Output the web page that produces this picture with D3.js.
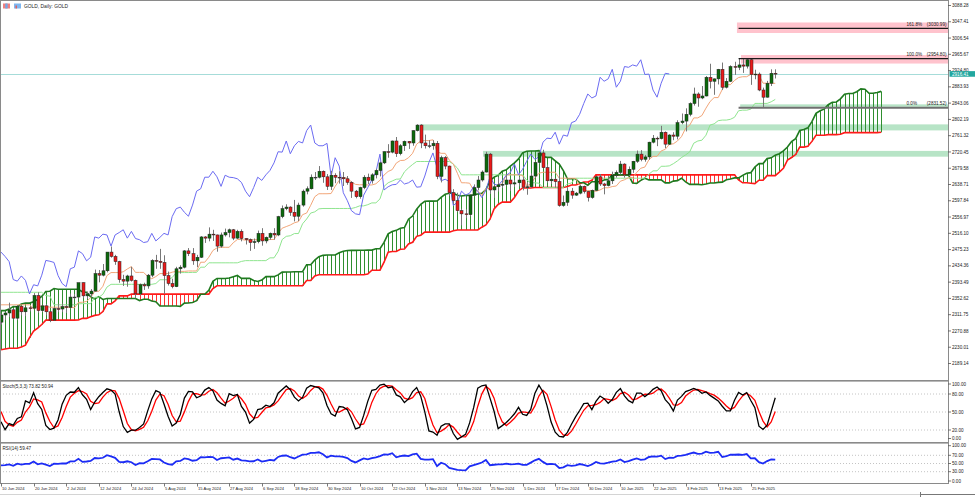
<!DOCTYPE html>
<html><head><meta charset="utf-8">
<script src="https://cdn.jsdelivr.net/npm/d3@7"></script>
<style>
body{margin:0;background:#fff;}
svg{display:block;}
text{font-family:"Liberation Sans",Arial,sans-serif;}
</style>
</head><body>
<svg id="c" width="975" height="497"></svg>
<script>
// ---------------- DATA ----------------
const chartTitle = "GOLD, Daily: GOLD";
const tickLabels = ["10 Jun 2024","20 Jun 2024","2 Jul 2024","12 Jul 2024","24 Jul 2024","5 Aug 2024","15 Aug 2024","27 Aug 2024","6 Sep 2024","18 Sep 2024","30 Sep 2024","10 Oct 2024","22 Oct 2024","1 Nov 2024","13 Nov 2024","25 Nov 2024","5 Dec 2024","17 Dec 2024","30 Dec 2024","10 Jan 2025","22 Jan 2025","3 Feb 2025","13 Feb 2025","25 Feb 2025"];
const barsPerTick = 8;
const priceTicks = [3088.28,3047.41,3006.54,2965.67,2924.80,2883.93,2843.06,2802.19,2761.32,2720.45,2679.58,2638.71,2597.84,2556.97,2516.10,2475.23,2434.36,2393.49,2352.62,2311.75,2270.88,2230.01,2189.14];
const stochTicks = [100,80,50,20,0];
const stochLevels = [80,50,20];
const rsiTicks = [100,70,50,30,0];
const rsiLevels = [70,50,30];

// history before the first visible bar (needed by the Ichimoku / oscillator windows)
const warmHigh = [1998,2006,2016,2022,2031,2030,2034,2041,2038,2037,2038,2052,
2088,2120,2141,2152,2165,2195,2189,2184,2178,2175,2167,2164,2163,2189,2223,2183,2176,2183,2199,2235,2236,
2266,2281,2305,2304,2331,2354,2365,2354,2378,2431,2386,2392,2395,2385,2418,2389,2337,2335,2340,2352,2346,2336,
2327,2326,2310,2326,2331,2323,2351,2378,2364,2359,2391,2395,2419,2450,2433,2431,2385,2340,2359,2365,2361,2349,2360,
2353,2351,2361,2387,2387];
const warmLow = [1984,1990,1999,2011,2013,2017,2016,2020,2025,2025,2024,2030,
2039,2077,2110,2125,2143,2154,2176,2150,2156,2153,2153,2146,2146,2147,2172,2155,2163,2170,2173,2189,2228,
2228,2243,2273,2281,2268,2322,2334,2319,2323,2326,2336,2352,2355,2357,2374,2322,2291,2306,2307,2325,2323,2285,
2281,2297,2277,2298,2311,2303,2306,2345,2333,2337,2354,2373,2376,2414,2408,2373,2325,2325,2333,2340,2334,2325,2315,
2314,2315,2326,2350,2286];
const warmClose = [1992,2004,2013,2017,2024,2025,2024,2035,2031,2030,2034,2044,
2083,2114,2128,2148,2159,2179,2182,2158,2174,2162,2155,2160,2157,2186,2181,2165,2172,2178,2194,2230,2232,
2250,2280,2300,2290,2330,2339,2352,2333,2373,2344,2383,2383,2361,2379,2391,2327,2322,2316,2332,2337,2335,2286,
2320,2303,2301,2323,2314,2309,2346,2360,2336,2358,2386,2376,2415,2425,2421,2379,2329,2334,2351,2360,2338,2343,2327,
2350,2327,2355,2375,2293];

// visible daily candles, 10 Jun 2024 .. 5 Mar 2025
const open = [2293,2311,2316,2324,2303,2333,2319,2329,2328,2360,2322,2334,2319,2298,2327,2326,2332,2330,2356,2356,
2392,2359,2364,2371,2415,2411,2422,2469,2458,2445,2400,2396,2409,2398,2364,2387,2384,2411,2448,2446,
2443,2410,2390,2382,2427,2431,2472,2465,2447,2456,2507,2504,2514,2512,2484,2512,2518,2525,2504,2521,
2503,2500,2493,2495,2516,2497,2506,2516,2512,2558,2578,2582,2569,2559,2587,2622,2628,2657,2657,2672,
2658,2634,2662,2657,2656,2653,2644,2622,2608,2631,2657,2649,2663,2674,2693,2721,2720,2748,2716,2736,
2747,2743,2774,2788,2743,2736,2736,2742,2659,2706,2685,2618,2598,2573,2565,2563,2612,2631,2650,2670,
2715,2625,2633,2638,2639,2650,2640,2643,2650,2632,2633,2660,2694,2718,2681,2648,2652,2646,2586,2594,
2622,2612,2617,2634,2621,2606,2624,2658,2640,2636,2648,2662,2669,2690,2663,2677,2697,2715,2702,2708,
2745,2755,2754,2770,2740,2763,2760,2794,2798,2815,2842,2866,2856,2861,2908,2898,2904,2928,2883,2898,
2935,2933,2939,2936,2952,2915,2916,2876,2858,2893,2918];
const high = [2314,2318,2342,2327,2336,2334,2331,2333,2366,2368,2336,2338,2321,2330,2339,2340,2336,2365,2364,2392,
2393,2370,2376,2425,2424,2439,2469,2483,2462,2447,2412,2412,2432,2400,2390,2392,2414,2451,2462,2477,
2461,2420,2402,2432,2436,2474,2479,2479,2462,2509,2509,2531,2525,2513,2518,2528,2528,2527,2525,2526,
2504,2503,2503,2523,2529,2508,2518,2529,2560,2586,2589,2584,2600,2593,2626,2634,2664,2670,2685,2674,
2665,2673,2667,2672,2670,2660,2647,2625,2633,2662,2666,2667,2678,2696,2722,2740,2749,2758,2740,2749,
2748,2775,2790,2790,2764,2750,2750,2748,2711,2710,2686,2627,2618,2578,2577,2615,2639,2660,2674,2721,
2718,2637,2657,2647,2665,2652,2650,2658,2658,2645,2667,2697,2721,2726,2689,2660,2654,2664,2611,2632,
2630,2620,2638,2636,2622,2626,2660,2665,2643,2661,2671,2674,2698,2692,2684,2698,2724,2725,2713,2746,
2763,2759,2786,2772,2765,2770,2800,2817,2830,2845,2882,2870,2886,2911,2942,2905,2929,2945,2906,2938,
2947,2954.8,2954,2953.5,2954,2927,2920,2882,2899,2928,2928];
const low = [2287,2298,2306,2300,2298,2310,2308,2320,2325,2316,2318,2310,2293,2297,2318,2318,2316,2327,2351,2353,
2353,2352,2356,2370,2393,2408,2418,2455,2437,2392,2384,2382,2395,2353,2360,2374,2377,2406,2427,2427,
2364,2385,2378,2381,2415,2428,2459,2437,2431,2454,2492,2496,2497,2470,2480,2508,2506,2499,2502,2496,
2488,2472,2477,2491,2485,2491,2500,2500,2509,2554,2574,2560,2546,2547,2583,2614,2626,2650,2654,2643,
2625,2625,2642,2641,2635,2638,2605,2604,2603,2627,2640,2641,2654,2659,2690,2706,2717,2708,2712,2723,
2728,2736,2772,2730,2729,2730,2726,2652,2644,2677,2610,2590,2570,2536,2554,2559,2609,2624,2646,2669,
2615,2605,2621,2630,2636,2622,2632,2634,2624,2613,2630,2655,2691,2679,2643,2640,2631,2583,2583,2585,
2603,2610,2614,2616,2596,2603,2623,2635,2614,2634,2640,2656,2664,2656,2660,2668,2693,2697,2696,2701,
2742,2735,2752,2730,2738,2750,2752,2790,2772,2810,2837,2834,2853,2860,2880,2864,2890,2876,2880,2896,
2914,2926,2919,2930,2889,2903,2873,2831.52,2857,2886,2905];
const close = [2311,2316,2324,2303,2333,2319,2329,2328,2360,2322,2334,2319,2298,2327,2326,2332,2330,2356,2356,2392,
2359,2364,2371,2415,2411,2422,2469,2458,2445,2400,2396,2409,2398,2364,2387,2384,2411,2448,2446,2443,
2410,2390,2382,2427,2431,2472,2465,2447,2456,2507,2504,2514,2512,2484,2512,2518,2525,2504,2521,2503,
2500,2493,2495,2516,2497,2506,2516,2512,2558,2578,2582,2569,2559,2587,2622,2628,2657,2657,2672,2658,
2634,2662,2657,2656,2653,2644,2622,2608,2631,2657,2649,2663,2674,2693,2721,2720,2748,2716,2736,2747,
2743,2774,2788,2743,2736,2736,2742,2659,2706,2685,2618,2598,2573,2565,2563,2612,2631,2650,2670,2715,
2625,2633,2638,2639,2650,2640,2643,2650,2632,2633,2660,2694,2718,2681,2648,2652,2646,2586,2594,2622,
2612,2617,2634,2621,2606,2624,2658,2640,2636,2648,2662,2669,2690,2663,2677,2697,2715,2702,2708,2745,
2755,2754,2770,2740,2763,2760,2794,2798,2815,2842,2866,2856,2861,2908,2898,2904,2928,2883,2898,2935,
2933,2939,2936,2952,2915,2916,2876,2858,2893,2918,2916.41];

// Fibonacci retracement anchors (bar index, price) and levels
const fibAnchorBar = 181;
const fibHigh = 2954.80;
const fibLow = 2831.52;
const fibLevels = [0, 1, 1.618];

// drawn zones: start bar, upper price, lower price, kind
const zoneStart = [180.6, 181.6, 102.8, 118.3, 181.4];
const zoneTop = [3045.6, 2963.9, 2789.7, 2723.1, 2840.0];
const zoneBottom = [3019.2, 2942.5, 2774.6, 2708.6, 2833.8];
const zoneKind = ["res","res","sup","sup","sup"];

// ---------------- LAYOUT ----------------
const svg = d3.select("#c");
const axisX = 948;
const FWD = 26;
const N = close.length;
const x = d3.scaleLinear().domain([0, 1]).range([1, 5.075]);
const y = d3.scaleLinear().domain([2189.14, 3088.28]).range([363.5, 5.5]);
const yS = d3.scaleLinear().domain([0, 100]).range([442, 382]);
const yR = d3.scaleLinear().domain([0, 100]).range([484, 443]);
const mainTop = 1, mainBot = 380, stTop = 381.5, stBot = 442, rsTop = 443.5, rsBot = 483.5;

const defs = svg.append("defs");
function clip(id, y0, y1){ defs.append("clipPath").attr("id", id).append("rect").attr("x", 0).attr("y", y0).attr("width", axisX).attr("height", y1 - y0); }
clip("cm", mainTop, mainBot); clip("cs", stTop, stBot); clip("cr", rsTop, rsBot);

svg.append("rect").attr("width", 975).attr("height", 497).attr("fill", "#fff");

// ---------------- INDICATORS ----------------
const OFF = warmHigh.length;
const H = warmHigh.concat(high), L = warmLow.concat(low), C = warmClose.concat(close);
function mid(i, n){ let hh = -Infinity, ll = Infinity; for (let j = i - n + 1; j <= i; j++){ hh = Math.max(hh, H[j]); ll = Math.min(ll, L[j]); } return (hh + ll) / 2; }
const tenkan = d3.range(N).map(i => mid(OFF + i, 9));
const kijun = d3.range(N).map(i => mid(OFF + i, 26));
const spanA = d3.range(N + FWD).map(k => { const s = OFF + k - FWD; return (mid(s, 9) + mid(s, 26)) / 2; });
const spanB = d3.range(N + FWD).map(k => mid(OFF + k - FWD, 52));
const chikou = d3.range(N - FWD).map(k => close[k + FWD]);

// Stochastic (5,3,3)
const T = C.length;
const num = [], den = [], K = [], D = [];
for (let i = 0; i < T; i++){
  if (i < 4){ num.push(null); den.push(null); continue; }
  let hh = -Infinity, ll = Infinity;
  for (let j = i - 4; j <= i; j++){ hh = Math.max(hh, H[j]); ll = Math.min(ll, L[j]); }
  num.push(C[i] - ll); den.push(hh - ll);
}
for (let i = 0; i < T; i++){
  if (i < 6){ K.push(null); continue; }
  const sn = num[i] + num[i-1] + num[i-2], sd = den[i] + den[i-1] + den[i-2];
  K.push(sd === 0 ? 100 : 100 * sn / sd);
}
for (let i = 0; i < T; i++){ D.push(i < 8 ? null : (K[i] + K[i-1] + K[i-2]) / 3); }
// RSI(14)
const rsi = new Array(T).fill(null);
{ let g = 0, l = 0; for (let i = 1; i <= 14; i++){ const d = C[i] - C[i-1]; if (d > 0) g += d; else l -= d; }
  g /= 14; l /= 14; rsi[14] = l === 0 ? 100 : 100 - 100 / (1 + g / l);
  for (let i = 15; i < T; i++){ const d = C[i] - C[i-1]; g = (g * 13 + Math.max(d, 0)) / 14; l = (l * 13 + Math.max(-d, 0)) / 14; rsi[i] = l === 0 ? 100 : 100 - 100 / (1 + g / l); } }
const stochK = K.slice(OFF), stochD = D.slice(OFF), rsiV = rsi.slice(OFF);

// ---------------- MAIN PANEL ----------------
const gm = svg.append("g").attr("clip-path", "url(#cm)");
const zoneColor = {res: "#ffc3cd", sup: "#b7e4c6"};
zoneStart.forEach((s, i) => {
  gm.append("rect").attr("x", x(s)).attr("y", y(zoneTop[i])).attr("width", axisX - x(s))
    .attr("height", y(zoneBottom[i]) - y(zoneTop[i])).attr("fill", zoneColor[zoneKind[i]]);
});
// current price line
const last = close[N - 1];
gm.append("line").attr("x1", 0).attr("x2", axisX).attr("y1", Math.round(y(last)) + 0.5).attr("y2", Math.round(y(last)) + 0.5)
  .attr("stroke", "#a6dcd9").attr("stroke-width", 1);

// cloud hatch
gm.selectAll("line.h").data(d3.range(N + FWD)).join("line").attr("class", "h")
  .attr("x1", k => Math.round(x(k)) + 0.5).attr("x2", k => Math.round(x(k)) + 0.5)
  .attr("y1", k => y(spanA[k])).attr("y2", k => y(spanB[k]))
  .attr("stroke", k => spanA[k] >= spanB[k] ? "#2f8f2f" : "#ff3030").attr("stroke-width", 1);
const lineGen = (arr, sc) => d3.line().x((d, i) => x(i)).y(d => sc(d))(arr);
gm.append("path").attr("d", lineGen(spanB, y)).attr("fill", "none").attr("stroke", "#ff1a1a").attr("stroke-width", 1.6);
gm.append("path").attr("d", lineGen(spanA, y)).attr("fill", "none").attr("stroke", "#1f7a1f").attr("stroke-width", 1.6);
gm.append("path").attr("d", lineGen(kijun, y)).attr("fill", "none").attr("stroke", "#8fe58f").attr("stroke-width", 1);
gm.append("path").attr("d", lineGen(tenkan, y)).attr("fill", "none").attr("stroke", "#f2a679").attr("stroke-width", 1);
gm.append("path").attr("d", lineGen(chikou, y)).attr("fill", "none").attr("stroke", "#6b6bf2").attr("stroke-width", 1);

// candles
const cg = gm.append("g");
d3.range(N).forEach(i => {
  const cx = Math.round(x(i));
  const o = open[i], c = close[i];
  cg.append("line").attr("x1", cx + 0.5).attr("x2", cx + 0.5).attr("y1", y(high[i])).attr("y2", y(low[i]))
    .attr("stroke", "#777").attr("stroke-width", 1);
  const top = y(Math.max(o, c)), bot = y(Math.min(o, c));
  const h = Math.max(bot - top, 0.8);
  cg.append("rect").attr("x", cx - 1).attr("y", top).attr("width", 3).attr("height", h)
    .attr("fill", c > o ? "#0b6a0b" : (c < o ? "#ea1a1a" : "#777"))
    .attr("stroke", "#222").attr("stroke-width", 0.5);
});

// Fibonacci
const fx = x(fibAnchorBar);
fibLevels.forEach(lv => {
  const p = fibLow + lv * (fibHigh - fibLow);
  const yy = y(p);
  svg.append("line").attr("x1", fx).attr("x2", axisX).attr("y1", yy).attr("y2", yy)
    .attr("stroke", lv === 0 ? "#707070" : "#1a1a1a").attr("stroke-width", lv === 0 ? 2 : 1.3);
  svg.append("text").attr("x", 906.5).attr("y", yy - 2.6).attr("font-size", 4.6).attr("fill", "#222")
    .text((lv * 100).toFixed(1) + "%");
  svg.append("text").attr("x", 946.5).attr("y", yy - 2.6).attr("font-size", 4.6).attr("fill", "#222")
    .attr("text-anchor", "end").text("(" + p.toFixed(2) + ")");
});

// ---------------- OSCILLATORS ----------------
const gs = svg.append("g").attr("clip-path", "url(#cs)");
stochLevels.forEach(v => gs.append("line").attr("x1", 0).attr("x2", axisX).attr("y1", yS(v)).attr("y2", yS(v))
  .attr("stroke", "#c4c4c4").attr("stroke-dasharray", "1,2"));
const lineIdx = (arr, sc) => d3.line().defined(d => d != null).x((d, i) => x(i)).y(d => sc(d))(arr);
gs.append("path").attr("d", lineIdx(stochD, yS)).attr("fill", "none").attr("stroke", "#ff0000").attr("stroke-width", 1.3);
gs.append("path").attr("d", lineIdx(stochK, yS)).attr("fill", "none").attr("stroke", "#000").attr("stroke-width", 1.3);

const gr = svg.append("g").attr("clip-path", "url(#cr)");
rsiLevels.forEach(v => gr.append("line").attr("x1", 0).attr("x2", axisX).attr("y1", yR(v)).attr("y2", yR(v))
  .attr("stroke", "#c4c4c4").attr("stroke-dasharray", "1,2"));
gr.append("path").attr("d", lineIdx(rsiV, yR)).attr("fill", "none").attr("stroke", "#1c2cf5").attr("stroke-width", 1.8);

// ---------------- FRAMES & AXES ----------------
const frame = "#8a8a8a";
svg.append("line").attr("x1", 0.5).attr("x2", 0.5).attr("y1", 0).attr("y2", rsBot).attr("stroke", frame);
svg.append("line").attr("x1", 0).attr("x2", axisX).attr("y1", 0.5).attr("y2", 0.5).attr("stroke", frame);
svg.append("line").attr("x1", axisX + 0.5).attr("x2", axisX + 0.5).attr("y1", 0).attr("y2", rsBot).attr("stroke", frame);
svg.append("rect").attr("x", 0).attr("y", 380).attr("width", axisX + 1).attr("height", 1.6).attr("fill", frame);
svg.append("rect").attr("x", 0).attr("y", 442).attr("width", axisX + 1).attr("height", 1.6).attr("fill", frame);
svg.append("line").attr("x1", 0).attr("x2", axisX + 1).attr("y1", rsBot).attr("y2", rsBot).attr("stroke", frame);

const axG = svg.append("g").attr("font-size", 4.6).attr("fill", "#222");
function tickLbl(yy, label){
  axG.append("line").attr("x1", axisX).attr("x2", axisX + 3).attr("y1", yy).attr("y2", yy).attr("stroke", "#555").attr("stroke-width", 0.8);
  axG.append("text").attr("x", axisX + 4).attr("y", yy).attr("dy", "0.35em").text(label);
}
priceTicks.forEach(p => tickLbl(y(p), p.toFixed(2)));
stochTicks.forEach(v => tickLbl(Math.min(Math.max(yS(v), stTop + 2.5), stBot - 3.5), v.toFixed(2)));
rsiTicks.forEach(v => tickLbl(Math.min(Math.max(yR(v), rsTop + 2.2), rsBot - 2.5), v.toFixed(2)));

// current price label
const ly = y(last);
svg.append("rect").attr("x", axisX + 1.5).attr("y", ly - 2.8).attr("width", 26).attr("height", 5.6).attr("fill", "#22a79f");
svg.append("text").attr("x", axisX + 4).attr("y", ly).attr("dy", "0.35em").attr("font-size", 4.6).attr("fill", "#fff").text(last.toFixed(2));

// time axis
const tg = svg.append("g").attr("font-size", 4.1).attr("fill", "#222");
tickLabels.forEach((t, k) => {
  const tx = Math.round(x(k * barsPerTick)) + 0.5;
  tg.append("line").attr("x1", tx).attr("x2", tx).attr("y1", rsBot).attr("y2", rsBot + 3).attr("stroke", "#555").attr("stroke-width", 0.8);
  tg.append("text").attr("x", tx + 0.5).attr("y", 489).attr("dy", "0.35em").text(t);
});

// bottom strip
svg.append("line").attr("x1", 0).attr("x2", 920).attr("y1", 494.5).attr("y2", 494.5).attr("stroke", "#d4d4d4");
svg.append("line").attr("x1", 920).attr("x2", 975).attr("y1", 494.5).attr("y2", 494.5).attr("stroke", "#777");
svg.append("line").attr("x1", 920.5).attr("x2", 920.5).attr("y1", 492).attr("y2", 497).attr("stroke", "#777");

// titles
svg.append("rect").attr("x", 3).attr("y", 3.5).attr("width", 7).attr("height", 5).attr("fill", "#f08080");
svg.append("rect").attr("x", 5.3).attr("y", 3.5).attr("width", 2.3).attr("height", 5).attr("fill", "#6fa8e8");
svg.append("rect").attr("x", 14).attr("y", 3.5).attr("width", 7).attr("height", 5).attr("fill", "#7eb6ef");
svg.append("rect").attr("x", 15.5).attr("y", 5.5).attr("width", 1.5).attr("height", 3).attr("fill", "#e06060");
svg.append("text").attr("x", 24).attr("y", 6.2).attr("dy", "0.35em").attr("font-size", 4.9).attr("fill", "#222").text(chartTitle);
svg.append("text").attr("x", 2.5).attr("y", 386).attr("dy", "0.35em").attr("font-size", 4.6).attr("fill", "#222")
  .text(`Stoch(5,3,3) ${stochK[N-1].toFixed(2)} ${stochD[N-1].toFixed(2)}`);
svg.append("text").attr("x", 2.5).attr("y", 448).attr("dy", "0.35em").attr("font-size", 4.6).attr("fill", "#222")
  .text(`RSI(14) ${rsiV[N-1].toFixed(2)}`);
</script>
</body></html>
